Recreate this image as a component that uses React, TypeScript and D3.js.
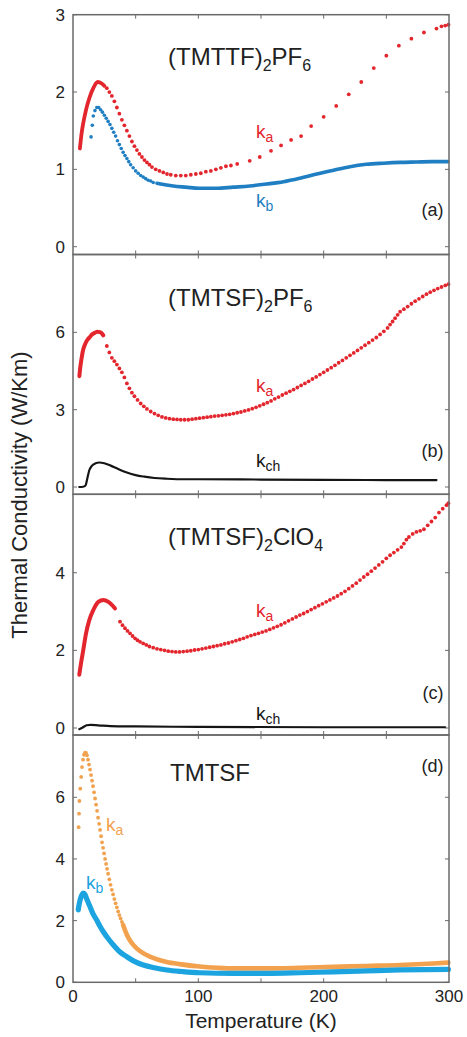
import React from "react";
import * as d3 from "d3";

type Pt = [number, number];

const WIDTH = 467;
const HEIGHT = 1037;

// Temperature axis (shared by all panels)
const X_DOMAIN: [number, number] = [0, 300];
const X_TICKS = [0, 50, 100, 150, 200, 250, 300];
const X_TICK_LABELS = [0, 100, 200, 300];

// ---- (a) (TMTTF)2PF6 ----
const A_KA_LINE: Pt[] = [
  [5.5, 1.27], [6.9, 1.47], [8.2, 1.6], [10.4, 1.77], [13, 1.92], [16.2, 2.05],
  [19.7, 2.13], [22.9, 2.11], [25, 2.08],
];
const A_KA_DOTS: Pt[] = [
  [27, 2.05], [29, 2.0], [31, 1.95], [33, 1.88], [35, 1.8], [37, 1.72], [39, 1.64],
  [41, 1.57], [43, 1.5], [45, 1.43], [47, 1.36], [49, 1.3], [51, 1.25], [53, 1.2],
  [55, 1.16], [57, 1.12], [59, 1.09], [61, 1.06], [63, 1.03], [66, 1.0], [69, 0.98],
  [72, 0.96], [75, 0.94], [78, 0.93], [82, 0.92], [86, 0.92], [90, 0.92], [94, 0.93],
  [98, 0.94], [102, 0.95], [106, 0.97], [110, 0.98], [114, 1.0], [118, 1.02],
  [122, 1.04], [126, 1.05], [131, 1.07], [141, 1.11], [149, 1.16], [158, 1.24],
  [166, 1.31], [174, 1.38], [182, 1.43], [190, 1.56], [200, 1.68], [210, 1.82],
  [220, 1.97], [230, 2.13], [240, 2.31], [250, 2.47], [260, 2.6], [270, 2.69],
  [280, 2.77], [290, 2.82], [294, 2.85], [297, 2.86], [299.6, 2.87],
];
const A_KB_DOTS: Pt[] = [
  [14.4, 1.42], [15.4, 1.57], [16.2, 1.69], [17.5, 1.76], [19, 1.8], [20.5, 1.8],
  [22, 1.77], [23.5, 1.74], [25, 1.7], [26.5, 1.66], [28, 1.62], [29.5, 1.58],
  [31, 1.53], [32.5, 1.48], [34, 1.43], [35.5, 1.37], [37, 1.32], [38.5, 1.27],
  [40, 1.22], [41.5, 1.18], [43, 1.14], [44.5, 1.1], [46, 1.06], [48, 1.02],
  [50, 0.98], [52, 0.95], [54, 0.92], [56, 0.9], [58, 0.88], [60, 0.86], [62, 0.85],
  [64, 0.83],
];
const A_KB_LINE: Pt[] = [
  [67, 0.82], [70, 0.81], [80, 0.785], [90, 0.77], [101, 0.755], [114, 0.755],
  [128, 0.77], [141, 0.785], [154.5, 0.81], [168, 0.84], [181, 0.885], [194.5, 0.94],
  [208, 0.99], [221, 1.035], [234, 1.065], [248, 1.08], [261, 1.09], [274, 1.095],
  [287, 1.1], [299, 1.1],
];

// ---- (b) (TMTSF)2PF6 ----
const B_KA_LINE: Pt[] = [
  [5.1, 4.3], [5.7, 4.6], [6.4, 4.85], [7.2, 5.1], [8.2, 5.34], [9.3, 5.5], [10.4, 5.62],
  [12, 5.74], [13.6, 5.83], [15.5, 5.93], [17.6, 5.99], [19.5, 6.02], [21.5, 6.01],
  [23, 5.96], [24.2, 5.88],
];
const B_KA_DOTS: Pt[] = [
  [27, 5.47], [29, 5.22], [31, 5.01], [33, 4.88], [35, 4.75], [37, 4.6], [39, 4.45],
  [41, 4.25], [43, 4.02], [45, 3.83], [47, 3.66], [49, 3.52], [51.5, 3.38], [54, 3.24],
  [56.5, 3.13], [59, 3.03], [62, 2.93], [65, 2.85], [68, 2.78], [71, 2.72], [74, 2.68],
  [77, 2.65], [80, 2.63], [83, 2.62], [86, 2.61], [89, 2.61], [92, 2.61], [95, 2.63],
  [98, 2.65], [101, 2.67], [104, 2.69], [107, 2.71], [110, 2.73], [113, 2.75],
  [116, 2.76], [119, 2.78], [122, 2.8], [125, 2.82], [128, 2.85], [131, 2.88],
  [134, 2.91], [137, 2.95], [140, 2.99], [143, 3.04], [146, 3.09], [149, 3.15],
  [152, 3.21], [155, 3.27], [158, 3.34], [161, 3.42], [164, 3.49], [167, 3.57],
  [170, 3.64], [173, 3.71], [176, 3.78], [179, 3.86], [182, 3.94], [185, 4.02],
  [188, 4.1], [191, 4.19], [194, 4.27], [197, 4.36], [200, 4.45], [203, 4.54],
  [206, 4.63], [209, 4.72], [212, 4.82], [215, 4.91], [218, 5.01], [221, 5.11],
  [224, 5.2], [227, 5.3], [230, 5.4], [233, 5.5], [236, 5.6], [239, 5.7], [242, 5.8],
  [245, 5.92], [248, 6.04], [251, 6.17], [253, 6.3], [255, 6.42], [257, 6.55],
  [259, 6.68], [261, 6.8], [264, 6.9], [267, 7.0], [270, 7.11], [273, 7.21],
  [276, 7.3], [279, 7.39], [282, 7.48], [285, 7.56], [288, 7.63], [291, 7.7],
  [294, 7.76], [297, 7.82], [299.5, 7.87],
];
const B_KCH: Pt[] = [
  [5, 0.0], [8, 0.01], [10, 0.06], [11.5, 0.35], [13, 0.65], [15, 0.82], [18, 0.92],
  [21, 0.95], [25, 0.92], [30, 0.83], [36, 0.7], [43, 0.56], [50, 0.46], [57, 0.4],
  [65, 0.35], [75, 0.32], [90, 0.3], [101, 0.3], [150, 0.29], [200, 0.28], [250, 0.27],
  [290, 0.27],
];

// ---- (c) (TMTSF)2ClO4 ----
const C_KA_LINE: Pt[] = [
  [5, 1.37], [6.4, 1.67], [8.2, 2.01], [10.4, 2.44], [13, 2.78], [16.2, 3.04],
  [20.2, 3.25], [24.2, 3.3], [28.2, 3.25], [31, 3.17], [33.5, 3.08],
];
const C_KA_DOTS: Pt[] = [
  [37.5, 2.74], [39.5, 2.65], [41.5, 2.57], [43.5, 2.5], [45.5, 2.44], [47.5, 2.37],
  [49.5, 2.31], [51.5, 2.26], [53.5, 2.22], [56, 2.18], [58.5, 2.14], [61, 2.1],
  [64, 2.07], [67, 2.04], [70, 2.02], [73, 2.0], [76, 1.98], [79, 1.97], [82, 1.96],
  [85, 1.96], [88, 1.97], [91, 1.98], [94, 1.99], [97, 2.01], [100, 2.02], [103, 2.04],
  [106, 2.06], [109, 2.08], [112, 2.1], [115, 2.12], [118, 2.14], [121, 2.17],
  [124, 2.19], [127, 2.22], [130, 2.25], [133, 2.28], [136, 2.31], [139, 2.35],
  [142, 2.38], [145, 2.41], [148, 2.44], [151, 2.47], [154, 2.5], [157, 2.54],
  [160, 2.58], [163, 2.62], [166, 2.66], [169, 2.71], [172, 2.76], [175, 2.81],
  [178, 2.86], [181, 2.91], [184, 2.95], [187, 3.0], [190, 3.05], [193, 3.1],
  [196, 3.15], [199, 3.2], [202, 3.25], [205, 3.3], [208, 3.35], [211, 3.4],
  [214, 3.46], [217, 3.52], [220, 3.59], [223, 3.66], [226, 3.73], [229, 3.81],
  [232, 3.89], [235, 3.96], [238, 4.04], [241, 4.12], [244, 4.2], [247, 4.28],
  [250, 4.37], [253, 4.45], [256, 4.52], [259, 4.59], [262, 4.66], [264, 4.75],
  [266, 4.85], [268, 4.92], [271, 5.0], [274, 5.05], [277, 5.08], [280, 5.12],
  [283, 5.22], [286, 5.32], [289, 5.42], [292, 5.55], [295, 5.65], [298, 5.74],
  [299.5, 5.79],
];
const C_KCH: Pt[] = [
  [5, -0.03], [7, 0.0], [9, 0.04], [11, 0.07], [14, 0.08], [20, 0.07], [30, 0.05],
  [50, 0.04], [100, 0.03], [200, 0.02], [297, 0.02],
];

// ---- (d) TMTSF ----
const D_KA_DOTS: Pt[] = [
  [4.5, 5.03], [4.8, 5.47], [5.1, 5.88], [5.8, 6.28], [6.5, 6.66], [7.2, 6.98],
  [8.0, 7.22], [8.8, 7.38], [9.6, 7.45], [10.4, 7.44], [11.2, 7.36], [12.0, 7.22],
  [12.8, 7.06], [13.6, 6.9], [14.4, 6.72], [15.2, 6.54], [16.0, 6.36], [16.8, 6.16],
  [17.6, 5.96], [18.4, 5.76], [19.2, 5.56], [20.0, 5.34], [20.8, 5.14], [21.6, 4.94],
  [22.4, 4.74], [23.2, 4.54], [24.0, 4.36], [24.8, 4.18], [25.6, 4.0], [26.4, 3.84],
  [27.2, 3.68], [28.0, 3.52], [29, 3.34], [30, 3.16], [31, 3.0], [32, 2.85], [33, 2.7],
  [34, 2.56], [35, 2.43], [36, 2.3], [37, 2.18], [38, 2.07], [39, 1.96], [40, 1.86],
];
const D_KA_LINE: Pt[] = [
  [40, 1.86], [42.9, 1.55], [46, 1.32], [50.8, 1.1], [55, 0.97], [61.4, 0.83],
  [68, 0.73], [74.8, 0.66], [85, 0.59], [101, 0.51], [115, 0.47], [128, 0.45],
  [154.5, 0.45], [181, 0.47], [207.7, 0.5], [234, 0.53], [261, 0.56], [287.5, 0.61],
  [299.5, 0.64],
];
const D_KB_LINE: Pt[] = [
  [4.2, 2.35], [5, 2.55], [6, 2.72], [7, 2.83], [8.2, 2.89], [9.5, 2.85], [11, 2.7],
  [13.6, 2.45], [16, 2.22], [18.9, 2.02], [21.5, 1.82], [24.2, 1.64], [28, 1.42],
  [32.2, 1.21], [37, 1.0], [42.9, 0.83], [49, 0.68], [56.1, 0.56], [65, 0.47],
  [74.8, 0.4], [87, 0.35], [101, 0.31], [128, 0.29], [154.5, 0.29], [181, 0.31],
  [207.7, 0.34], [234, 0.37], [261, 0.4], [299.5, 0.42],
];

const RED = "#e3262d";
const BLUE = "#1f7fc2";
const CYAN = "#1ba4df";
const ORANGE = "#f2a24f";
const BLACK = "#151515";
const FRAME = "#6a6a6a";
const TEXT = "#222";
const FONT = "'Liberation Sans', Arial, Helvetica, sans-serif";

type Series = { data: Pt[]; kind: "dots" | "line"; color: string; size: number };
type Part = [string, boolean];
type Note = { x: number; y: number; parts: Part[]; color: string };

type Panel = {
  id: string;
  top: number;
  bottom: number;
  yDomain: [number, number];
  yTicks: number[];
  yLabels: number[];
  series: Series[];
  title: { x: number; y: number; parts: Part[] };
  tag: { y: number; text: string };
  notes: Note[];
};

const PANELS: Panel[] = [
  {
    id: "a",
    top: 14.7,
    bottom: 254.5,
    yDomain: [-0.101, 3],
    yTicks: [0, 1, 2, 3],
    yLabels: [0, 1, 2, 3],
    series: [
      { data: A_KB_LINE, kind: "line", color: BLUE, size: 3.6 },
      { data: A_KB_DOTS, kind: "dots", color: BLUE, size: 1.8 },
      { data: A_KA_LINE, kind: "line", color: RED, size: 3.8 },
      { data: A_KA_DOTS, kind: "dots", color: RED, size: 1.9 },
    ],
    title: { x: 168, y: 65, parts: [["(TMTTF)", false], ["2", true], ["PF", false], ["6", true]] },
    tag: { y: 216, text: "(a)" },
    notes: [
      { x: 256, y: 138, parts: [["k", false], ["a", true]], color: RED },
      { x: 256, y: 207, parts: [["k", false], ["b", true]], color: BLUE },
    ],
  },
  {
    id: "b",
    top: 254.5,
    bottom: 494.3,
    yDomain: [-0.283, 9.02],
    yTicks: [0, 3, 6],
    yLabels: [0, 3, 6],
    series: [
      { data: B_KCH, kind: "line", color: BLACK, size: 2.2 },
      { data: B_KA_LINE, kind: "line", color: RED, size: 4 },
      { data: B_KA_DOTS, kind: "dots", color: RED, size: 1.9 },
    ],
    title: { x: 168, y: 306, parts: [["(TMTSF)", false], ["2", true], ["PF", false], ["6", true]] },
    tag: { y: 457, text: "(b)" },
    notes: [
      { x: 256, y: 392, parts: [["k", false], ["a", true]], color: RED },
      { x: 256, y: 467, parts: [["k", false], ["ch", true]], color: BLACK },
    ],
  },
  {
    id: "c",
    top: 494.3,
    bottom: 735,
    yDomain: [-0.18, 6.02],
    yTicks: [0, 2, 4],
    yLabels: [0, 2, 4],
    series: [
      { data: C_KCH, kind: "line", color: BLACK, size: 2.2 },
      { data: C_KA_LINE, kind: "line", color: RED, size: 4 },
      { data: C_KA_DOTS, kind: "dots", color: RED, size: 1.9 },
    ],
    title: { x: 168, y: 545, parts: [["(TMTSF)", false], ["2", true], ["ClO", false], ["4", true]] },
    tag: { y: 699, text: "(c)" },
    notes: [
      { x: 256, y: 617, parts: [["k", false], ["a", true]], color: RED },
      { x: 256, y: 720, parts: [["k", false], ["ch", true]], color: BLACK },
    ],
  },
  {
    id: "d",
    top: 735,
    bottom: 982.3,
    yDomain: [0, 8.02],
    yTicks: [0, 2, 4, 6],
    yLabels: [0, 2, 4, 6],
    series: [
      { data: D_KA_LINE, kind: "line", color: ORANGE, size: 4.6 },
      { data: D_KA_DOTS, kind: "dots", color: ORANGE, size: 1.9 },
      { data: D_KB_LINE, kind: "line", color: CYAN, size: 5.2 },
    ],
    title: { x: 170, y: 781, parts: [["TMTSF", false]] },
    tag: { y: 772, text: "(d)" },
    notes: [
      { x: 106, y: 831, parts: [["k", false], ["a", true]], color: ORANGE },
      { x: 86, y: 889, parts: [["k", false], ["b", true]], color: CYAN },
    ],
  },
];

const LEFT = 73;
const RIGHT = 449;
const TICK = 4;

function Formula({ x, y, parts, size, subSize, shift, color }: {
  x: number; y: number; parts: Part[]; size: number; subSize: number; shift: number; color: string;
}) {
  let level = 0;
  return (
    <text x={x} y={y} fontSize={size} fill={color} fontFamily={FONT}>
      {parts.map(([s, sub], i) => {
        const target = sub ? shift : 0;
        const dy = target - level;
        level = target;
        return (
          <tspan key={i} dy={dy} fontSize={sub ? subSize : size}>
            {s}
          </tspan>
        );
      })}
    </text>
  );
}

export default function App() {
  const x = d3.scaleLinear().domain(X_DOMAIN).range([LEFT, RIGHT]);

  return (
    <svg
      width={WIDTH}
      height={HEIGHT}
      viewBox={`0 0 ${WIDTH} ${HEIGHT}`}
      style={{ position: "absolute", left: 0, top: 0, background: "#fff" }}
    >
      <rect width={WIDTH} height={HEIGHT} fill="#fff" />
      {PANELS.map((p) => {
        const y = d3.scaleLinear().domain(p.yDomain).range([p.bottom, p.top]);
        const line = d3
          .line<Pt>()
          .x((d) => x(d[0]))
          .y((d) => y(d[1]))
          .curve(d3.curveMonotoneX);
        return (
          <g key={p.id}>
            {/* data */}
            {p.series.map((s, i) =>
              s.kind === "line" ? (
                <path
                  key={i}
                  d={line(s.data) || ""}
                  fill="none"
                  stroke={s.color}
                  strokeWidth={s.size}
                  strokeLinecap="round"
                  strokeLinejoin="round"
                />
              ) : (
                <g key={i} fill={s.color}>
                  {s.data.map((d, j) => (
                    <circle key={j} cx={x(d[0])} cy={y(d[1])} r={s.size} />
                  ))}
                </g>
              )
            )}
            {/* frame */}
            <rect
              x={LEFT}
              y={p.top}
              width={RIGHT - LEFT}
              height={p.bottom - p.top}
              fill="none"
              stroke={FRAME}
              strokeWidth={1.5}
            />
            {/* ticks */}
            <g stroke={FRAME} strokeWidth={1}>
              {X_TICKS.filter((t) => t > X_DOMAIN[0] && t < X_DOMAIN[1]).map((t) => (
                <g key={t}>
                  <line x1={x(t)} x2={x(t)} y1={p.top} y2={p.top + TICK} />
                  <line x1={x(t)} x2={x(t)} y1={p.bottom} y2={p.bottom - TICK} />
                </g>
              ))}
              {p.yTicks.map((t) => (
                <g key={t}>
                  <line x1={LEFT} x2={LEFT + TICK} y1={y(t)} y2={y(t)} />
                  <line x1={RIGHT} x2={RIGHT - TICK} y1={y(t)} y2={y(t)} />
                </g>
              ))}
            </g>
            {/* y tick labels */}
            <g fontFamily={FONT} fontSize={17} fill={TEXT} textAnchor="end">
              {p.yLabels.map((t) => (
                <text key={t} x={LEFT - 8} y={y(t)} dy="0.35em">
                  {t}
                </text>
              ))}
            </g>
            {/* compound name */}
            <Formula
              x={p.title.x}
              y={p.title.y}
              parts={p.title.parts}
              size={24}
              subSize={16}
              shift={6}
              color={TEXT}
            />
            {/* panel tag */}
            <text
              x={RIGHT - 5.5}
              y={p.tag.y}
              fontSize={18}
              fontFamily={FONT}
              fill={TEXT}
              textAnchor="end"
            >
              {p.tag.text}
            </text>
            {/* series labels */}
            {p.notes.map((n, i) => (
              <Formula
                key={i}
                x={n.x}
                y={n.y}
                parts={n.parts}
                size={19}
                subSize={14}
                shift={4}
                color={n.color}
              />
            ))}
          </g>
        );
      })}
      {/* temperature axis labels */}
      <g fontFamily={FONT} fontSize={17} fill={TEXT} textAnchor="middle">
        {X_TICK_LABELS.map((t) => (
          <text key={t} x={x(t)} y={1001.5}>
            {t}
          </text>
        ))}
      </g>
      <text
        x={(LEFT + RIGHT) / 2}
        y={1028}
        fontFamily={FONT}
        fontSize={21}
        fill={TEXT}
        textAnchor="middle"
      >
        Temperature (K)
      </text>
      <text
        transform={`translate(27, 495) rotate(-90)`}
        fontFamily={FONT}
        fontSize={22}
        fill={TEXT}
        textAnchor="middle"
      >
        Thermal Conductivity (W/Km)
      </text>
    </svg>
  );
}
